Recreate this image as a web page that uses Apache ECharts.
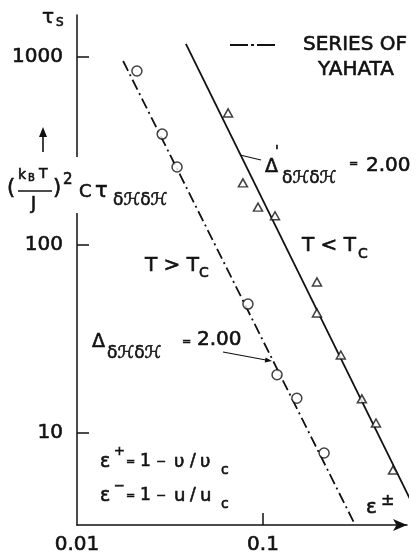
<!DOCTYPE html>
<html>
<head>
<meta charset="utf-8">
<script src="https://cdn.jsdelivr.net/npm/echarts@6/dist/echarts.min.js"></script>
<style>
  html, body { margin: 0; padding: 0; background: #fff; }
  #chart { width: 417px; height: 556px; }
</style>
</head>
<body>
<div id="chart"></div>
<script>
// Relaxation time of energy fluctuations vs. reduced distance from T_c (log-log)

const xTickValues = [0.01, 0.1];
const yTickValues = [10, 100, 1000];

// T > T_c : open circles
const circleEps = [0.0210, 0.0287, 0.0345, 0.0830, 0.119, 0.152, 0.213];
const circleTau = [842, 389, 260, 48.5, 20.4, 15.3, 7.83];

// T < T_c : open triangles
const triangleEps = [0.0649, 0.0780, 0.0940, 0.116, 0.195, 0.195, 0.262, 0.340, 0.405, 0.500];
const triangleTau = [504, 214, 159, 143, 63.6, 43.5, 26.0, 15.2, 11.3, 6.35];

// slope 2.00 line through the T < T_c points
const fitEps = [0.0385, 0.656];
const fitTau = [1173, 3.94];

// series of Yahata (dash-dot)
const yahataEps = [0.0177, 0.313];
const yahataTau = [952, 3.24];

const xRange = [0.01, 0.5945];
const yRange = [3.241, 1672];

const FONT = 'DejaVu Sans';
const INK = '#111';
const TEXT_STROKE = 0.6;   // slightly heavier lettering

function pairs(xs, ys) {
  return xs.map((x, i) => [x, ys[i]]);
}

function txt(x, y, s, size, extra) {
  return {
    type: 'text',
    z: 110,
    style: Object.assign({
      x: x, y: y, text: s,
      fontSize: size, fontFamily: FONT, fill: INK,
      stroke: INK, lineWidth: TEXT_STROKE,
      align: 'left', verticalAlign: 'middle'
    }, extra || {})
  };
}

function seg(x1, y1, x2, y2, w, dash) {
  return {
    type: 'line',
    z: 110,
    shape: { x1: x1, y1: y1, x2: x2, y2: y2 },
    style: { stroke: INK, lineWidth: w || 1.3, lineDash: dash || null }
  };
}

function tri(points) {
  return { type: 'polygon', z: 110, shape: { points: points }, style: { fill: INK } };
}

const chart = echarts.init(document.getElementById('chart'), null, { renderer: 'canvas' });

const markerStyle = { color: '#fff', borderColor: INK, borderWidth: 1.5 };
const tickFont = {
  color: INK, fontFamily: FONT, fontSize: 20,
  textBorderColor: INK, textBorderWidth: TEXT_STROKE
};

chart.setOption({
  animation: false,
  backgroundColor: '#fff',
  grid: { left: 77, top: 15, width: 330, height: 510, outerBoundsMode: 'none', containLabel: false },
  xAxis: {
    type: 'log',
    logBase: 10,
    min: xRange[0],
    max: xRange[1],
    splitLine: { show: false },
    axisLine: {
      show: true,
      lineStyle: { color: INK, width: 1.5 },
      symbol: ['none', 'arrow'],
      symbolSize: [9, 14]
    },
    axisTick: { show: true, inside: true, length: 12, customValues: [xTickValues[1]], lineStyle: { color: INK, width: 1.5 } },
    axisLabel: Object.assign({
      customValues: xTickValues,
      margin: 10,
      formatter: v => String(Number(Number(v).toPrecision(3)))
    }, tickFont)
  },
  yAxis: {
    type: 'log',
    logBase: 10,
    min: yRange[0],
    max: yRange[1],
    splitLine: { show: false },
    axisLine: { show: true, lineStyle: { color: INK, width: 1.5 } },
    axisTick: { show: true, inside: true, length: 12, customValues: yTickValues, lineStyle: { color: INK, width: 1.5 } },
    axisLabel: Object.assign({
      customValues: yTickValues,
      margin: 14,
      formatter: v => String(Math.round(v))
    }, tickFont)
  },
  series: [
    {
      name: 'SERIES OF YAHATA',
      type: 'line',
      data: pairs(yahataEps, yahataTau),
      symbol: 'none',
      clip: false,
      z: 2,
      lineStyle: { color: INK, width: 1.8, type: [11, 4, 2, 4] }
    },
    {
      name: 'fit',
      type: 'line',
      data: pairs(fitEps, fitTau),
      symbol: 'none',
      clip: false,
      z: 2,
      lineStyle: { color: INK, width: 1.8, type: 'solid' }
    },
    {
      name: 'T > Tc',
      type: 'scatter',
      data: pairs(circleEps, circleTau),
      symbol: 'circle',
      symbolSize: 10,
      z: 5,
      itemStyle: markerStyle
    },
    {
      name: 'T < Tc',
      type: 'scatter',
      data: pairs(triangleEps, triangleTau),
      symbol: 'triangle',
      symbolSize: [9, 8],
      z: 5,
      itemStyle: markerStyle
    }
  ],
  graphic: [
    // gap in the vertical axis behind its title
    { type: 'rect', z: 100, shape: { x: 72, y: 157, width: 10, height: 56 }, style: { fill: '#fff' } },

    // tau_s at the top of the axis
    txt(42, 18, 'τ', 20),
    txt(56, 23, 'S', 12),

    // vertical axis title: (k_B T / J)^2 C tau
    seg(43, 152, 43, 134, 1.6),
    tri([[39, 137], [43, 127], [47, 137]]),
    txt(7, 189, '(', 21),
    txt(18, 175, 'k', 14),
    txt(28, 178, 'B', 10),
    txt(39, 174, 'T', 14),
    seg(18, 191, 52, 191, 1.6),
    txt(31, 205, 'J', 17),
    txt(53, 189, ')', 21),
    txt(63, 180, '2', 15),
    txt(79, 192, 'C', 18),
    txt(95, 192, 'τ', 21),
    txt(113, 201, 'δℋδℋ', 17),

    // legend
    seg(230, 45, 275, 45, 1.8, [18, 3, 3, 3]),
    txt(355, 45, 'SERIES OF', 20, { align: 'center' }),
    txt(356, 70, 'YAHATA', 20, { align: 'center' }),

    // T < Tc branch label and exponent
    seg(240, 155, 261, 160, 1.2),
    txt(265, 167, 'Δ', 19),
    txt(275, 151, '\'', 14),
    txt(282, 179, 'δℋδℋ', 17),
    txt(349, 164, '=', 11),
    txt(366, 166, '2.00', 20),
    txt(302, 246, 'T < T', 20),
    txt(358, 254, 'C', 14),

    // T > Tc branch label and exponent
    txt(145, 266, 'T > T', 20),
    txt(199, 273, 'C', 14),
    txt(92, 342, 'Δ', 19),
    txt(107, 354, 'δℋδℋ', 17),
    txt(182, 342, '=', 11),
    txt(197, 340, '2.00', 20),
    seg(223, 352, 266, 360, 1.2),
    tri([[272, 361], [264.7, 362.6], [265.6, 357.4]]),

    // definitions of epsilon
    txt(100, 462, 'ε', 19),
    txt(114, 452, '+', 13),
    txt(126, 462, '=', 11),
    txt(140, 462, '1', 17),
    txt(156, 462, '−', 12),
    txt(174, 462, 'υ', 18),
    txt(190, 462, '/', 17),
    txt(200, 462, 'υ', 18),
    txt(221, 470, 'c', 14),

    txt(100, 496, 'ε', 19),
    txt(114, 487, '−', 13),
    txt(126, 496, '=', 11),
    txt(140, 496, '1', 17),
    txt(156, 496, '−', 12),
    txt(174, 496, 'u', 18),
    txt(190, 496, '/', 17),
    txt(200, 496, 'u', 18),
    txt(221, 504, 'c', 14),

    // horizontal axis name
    txt(366, 508, 'ε', 20),
    txt(381, 501, '±', 16)
  ]
});
</script>
</body>
</html>
